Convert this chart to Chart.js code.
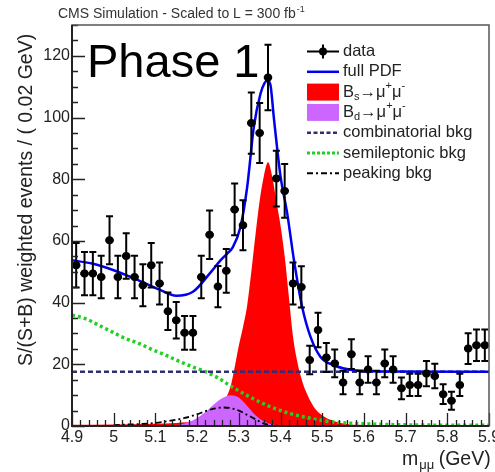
<!DOCTYPE html>
<html><head><meta charset="utf-8">
<script src="https://cdn.jsdelivr.net/npm/chart.js@4.4.1/dist/chart.umd.min.js"></script>
<style>html,body{margin:0;padding:0;background:#fff;overflow:hidden}canvas{display:block}</style>
</head><body>
<canvas id="c" width="495" height="472"></canvas>
<script>
// ---- data ----
const binCenters = [4.91,4.93,4.95,4.97,4.99,5.01,5.03,5.05,5.07,5.09,5.11,5.13,5.15,5.17,5.19,5.21,5.23,5.25,5.27,5.29,
  5.31,5.33,5.35,5.37,5.39,5.41,5.43,5.45,5.47,5.49,5.51,5.53,5.55,5.57,5.59,5.61,5.63,5.65,5.67,5.69,
  5.71,5.73,5.75,5.77,5.79,5.81,5.83,5.85,5.87,5.89];
const binHalfWidth = 0.01;
const dataValues = [52.1,49.4,49.4,48.3,60.2,48.3,55.1,48.3,45.6,52.1,46.2,37.2,34.3,30.2,30.2,48.3,62.0,45.2,50.3,70.2,
  65.1,98.2,95.0,113.0,80.2,76.2,46.2,45.1,21.4,31.1,22.2,20.3,14.1,23.3,14.1,18.3,14.1,20.3,18.3,12.2,
  13.3,13.3,17.0,16.2,10.3,8.2,13.3,25.1,26.2,26.2];
const dataErrors = [7.2,7.0,7.0,6.9,7.8,6.9,7.4,6.9,6.8,7.2,6.8,6.1,5.9,5.5,5.5,6.9,7.9,6.7,7.1,8.4,
  8.1,9.9,9.7,10.6,9.0,8.7,6.8,6.7,4.6,5.6,4.7,4.5,3.8,4.8,3.8,4.3,3.8,4.5,4.3,3.5,
  3.6,3.6,4.1,4.0,3.2,2.9,3.6,5.0,5.1,5.1];

const pdfX = [4.90,4.95,5.00,5.03,5.08,5.11,5.15,5.19,5.23,5.256,5.272,5.285,5.304,5.32,5.336,5.352,5.362,5.369,5.376,5.384,5.40,5.416,5.432,5.452,5.472,5.496,5.528,5.576,5.65,5.90];
const pdfY = [53.7,52.6,50.5,48.9,46.0,44.2,42.2,43.5,49.4,53.7,55.9,57.8,64.5,77.4,96.9,107.7,111.2,112.0,110.5,100.0,81.0,69.0,54.0,38.6,28.9,22.4,19.7,18.1,17.7,17.6];

const bsX = [4.90,5.00,5.10,5.15,5.20,5.22,5.24,5.26,5.28,5.29,5.30,5.31,5.32,5.33,5.34,5.35,5.36,5.37,5.38,5.39,5.40,5.41,5.42,5.43,5.44,5.45,5.46,5.48,5.50,5.52,5.55,5.60,5.70,5.90];
const bsY = [0.4,0.5,0.7,1.0,1.7,2.5,4.0,7.0,12.7,19,26,32,39,50,62,73,81,85.5,81,73,65,55,42,29,21,15.5,11.5,6.2,3.5,2.0,0.8,0.3,0.1,0];

const bdX = [5.12,5.14,5.16,5.18,5.20,5.22,5.24,5.26,5.28,5.30,5.32,5.34,5.36,5.38,5.40,5.42];
const bdY = [0,0.1,0.5,1.3,2.6,4.5,7.0,9.0,10.0,9.2,6.5,3.5,1.5,0.5,0.1,0];

const combX = [4.90,5.90];
const combY = [17.6,17.6];

const semiX = [4.90,4.932,4.964,4.996,5.028,5.060,5.092,5.124,5.156,5.189,5.22,5.25,5.28,5.328,5.376,5.424,5.472,5.52,5.568,5.65,5.75,5.90];
const semiY = [35.9,34.8,32.7,30.5,28.4,26.8,24.8,23.0,21.0,19.2,17.6,15.6,13.0,9.3,6.2,4.0,2.5,1.4,0.9,0.5,0.3,0.2];

const peakX = [5.00,5.10,5.14,5.17,5.20,5.22,5.24,5.26,5.28,5.30,5.32,5.34,5.36,5.38,5.40];
const peakY = [0.3,1.0,1.8,2.6,3.8,4.8,5.6,6.0,5.8,5.0,3.6,2.2,0.8,0.2,0];

const xTickValues = [4.9,5.0,5.1,5.2,5.3,5.4,5.5,5.6,5.7,5.8,5.9];
const xTickLabels = ['4.9','5','5.1','5.2','5.3','5.4','5.5','5.6','5.7','5.8','5.9'];
const yTickValues = [0,20,40,60,80,100,120];
const yTickLabels = ['0','20','40','60','80','100','120'];

const legendLabels = ['data','full PDF','Bs','Bd','combinatorial bkg','semileptonic bkg','peaking bkg'];

// ---- helpers ----
const zip = (xs, ys) => xs.map((x, i) => ({x: x, y: ys[i]}));
const FONT = '"Liberation Sans", Arial, Helvetica, sans-serif';
const C_RED = '#ff0000', C_PURPLE = '#cc66ff', C_BLUE = '#0000f0', C_NAVY = '#2e2e72', C_GREEN = '#22d022';

const curve = (data, color, width, dash, order, fill) => ({
  type: 'line', data: data, borderColor: color, borderWidth: width, borderDash: dash || [],
  pointRadius: 0, fill: fill ? 'origin' : false, backgroundColor: fill || 'transparent',
  cubicInterpolationMode: 'monotone', order: order
});

const decor = {
  id: 'decor',
  afterDatasetsDraw(chart) {
    const {ctx, scales: {x, y}} = chart;
    const a = chart.chartArea;
    ctx.save();
    ctx.beginPath(); ctx.rect(a.left, a.top, a.right - a.left, a.bottom - a.top); ctx.clip();
    ctx.strokeStyle = '#000'; ctx.lineCap = 'butt';
    binCenters.forEach((c, i) => {
      const px = x.getPixelForValue(c);
      const py = y.getPixelForValue(dataValues[i]);
      const pyHi = y.getPixelForValue(dataValues[i] + dataErrors[i]);
      const pyLo = y.getPixelForValue(dataValues[i] - dataErrors[i]);
      ctx.lineWidth = 2;
      ctx.beginPath(); ctx.moveTo(px, pyHi); ctx.lineTo(px, pyLo); ctx.stroke();
      ctx.beginPath(); ctx.moveTo(px - 3.5, pyHi); ctx.lineTo(px + 3.5, pyHi);
      ctx.moveTo(px - 3.5, pyLo); ctx.lineTo(px + 3.5, pyLo); ctx.stroke();
      ctx.lineWidth = 3;
      ctx.beginPath();
      ctx.moveTo(x.getPixelForValue(c - binHalfWidth), py); ctx.lineTo(x.getPixelForValue(c + binHalfWidth), py);
      ctx.stroke();
    });
    ctx.restore();
  },
  afterDraw(chart) {
    const {ctx, scales: {x, y}} = chart;
    const a = chart.chartArea;
    ctx.save();
    // tick marks (inside)
    ctx.strokeStyle = '#222'; ctx.lineWidth = 1.3;
    ctx.beginPath();
    for (let k = 0; k <= 50; k++) {
      const v = 4.9 + k * 0.02;
      const px = Math.round(x.getPixelForValue(v)) + 0.5;
      const len = (k % 5 === 0) ? 13 : 6;
      ctx.moveTo(px, a.bottom); ctx.lineTo(px, a.bottom - len);
    }
    for (let k = 0; k <= 26; k++) {
      const v = k * 5;
      const py = Math.round(y.getPixelForValue(v)) + 0.5;
      const len = (k % 4 === 0) ? 13 : 6;
      ctx.moveTo(a.left, py); ctx.lineTo(a.left + len, py);
    }
    ctx.stroke();
    // frame
    ctx.strokeStyle = '#555'; ctx.lineWidth = 1.5;
    ctx.strokeRect(a.left, a.top, a.right - a.left, a.bottom - a.top);
    ctx.strokeStyle = '#222'; ctx.lineWidth = 2;
    ctx.beginPath(); ctx.moveTo(a.left, a.top); ctx.lineTo(a.left, a.bottom); ctx.lineTo(a.right, a.bottom); ctx.stroke();

    // top caption
    ctx.fillStyle = '#333'; ctx.textBaseline = 'alphabetic'; ctx.textAlign = 'left';
    ctx.font = '14px ' + FONT;
    const cap = 'CMS Simulation - Scaled to L = 300 fb';
    ctx.fillText(cap, 58, 18);
    const cw = ctx.measureText(cap).width;
    ctx.font = '9px ' + FONT;
    ctx.fillText('-1', 58 + cw + 1, 12);

    // Phase 1
    ctx.fillStyle = '#000';
    ctx.font = '47px ' + FONT;
    ctx.fillText('Phase 1', 87, 77);

    // y title
    ctx.save();
    ctx.translate(32, 366); ctx.rotate(-Math.PI / 2);
    ctx.fillStyle = '#222'; ctx.font = '19.5px ' + FONT;
    ctx.fillText('S/(S+B) weighted events / ( 0.02 GeV)', 0, 0);
    ctx.restore();

    // x title
    ctx.fillStyle = '#222';
    ctx.font = '19.5px ' + FONT;
    ctx.fillText('m', 402, 465);
    let xx = 402 + ctx.measureText('m').width + 1;
    ctx.font = '13px ' + FONT;
    ctx.fillText('\u03bc\u03bc', xx, 469);
    xx += ctx.measureText('\u03bc\u03bc').width + 2;
    ctx.font = '19.5px ' + FONT;
    ctx.fillText(' (GeV)', xx - 3, 465);

    // legend
    const lx0 = 307, lx1 = 339, tx = 343, y0 = 51.5, dy = 20.3;
    ctx.textBaseline = 'middle';
    const mainF = '16.5px ' + FONT, smallF = '11px ' + FONT;
    const rowY = i => y0 + i * dy;
    let cy = rowY(0);
    ctx.strokeStyle = '#000'; ctx.lineWidth = 2; ctx.setLineDash([]);
    ctx.beginPath(); ctx.moveTo(lx0, cy); ctx.lineTo(lx1, cy); ctx.moveTo(323, cy - 7); ctx.lineTo(323, cy + 7); ctx.stroke();
    ctx.fillStyle = '#000'; ctx.beginPath(); ctx.arc(323, cy, 4, 0, Math.PI * 2); ctx.fill();
    cy = rowY(1);
    ctx.strokeStyle = C_BLUE; ctx.lineWidth = 2.5;
    ctx.beginPath(); ctx.moveTo(lx0, cy); ctx.lineTo(lx1, cy); ctx.stroke();
    cy = rowY(2);
    ctx.fillStyle = C_RED; ctx.fillRect(lx0, cy - 8.5, lx1 - lx0, 17);
    cy = rowY(3);
    ctx.fillStyle = C_PURPLE; ctx.fillRect(lx0, cy - 8.5, lx1 - lx0, 17);
    cy = rowY(4);
    ctx.strokeStyle = C_NAVY; ctx.lineWidth = 2.5; ctx.setLineDash([4, 2.5]);
    ctx.beginPath(); ctx.moveTo(lx0, cy); ctx.lineTo(lx1, cy); ctx.stroke();
    cy = rowY(5);
    ctx.strokeStyle = C_GREEN; ctx.lineWidth = 3; ctx.setLineDash([3, 2]);
    ctx.beginPath(); ctx.moveTo(lx0, cy); ctx.lineTo(lx1, cy); ctx.stroke();
    cy = rowY(6);
    ctx.strokeStyle = '#000'; ctx.lineWidth = 2; ctx.setLineDash([6, 3, 2, 3]);
    ctx.beginPath(); ctx.moveTo(lx0, cy); ctx.lineTo(lx1, cy); ctx.stroke();
    ctx.setLineDash([]);

    ctx.fillStyle = '#222'; ctx.font = mainF;
    ctx.fillText(legendLabels[0], tx, rowY(0));
    ctx.fillText(legendLabels[1], tx, rowY(1));
    const decay = (row, sub) => {
      let px = tx; const cyy = rowY(row);
      const seg = (t, f, dyy) => { ctx.font = f; ctx.fillText(t, px, cyy + dyy); px += ctx.measureText(t).width; };
      seg('B', mainF, 0); seg(sub, smallF, 5); seg('\u2192\u03bc', mainF, 0); seg('+', smallF, -6); seg('\u03bc', mainF, 0); seg('-', smallF, -6);
    };
    decay(2, 's'); decay(3, 'd');
    ctx.font = mainF;
    ctx.fillText(legendLabels[4], tx, rowY(4));
    ctx.fillText(legendLabels[5], tx, rowY(5));
    ctx.fillText(legendLabels[6], tx, rowY(6));
    ctx.restore();
  }
};

new Chart(document.getElementById('c'), {
  type: 'scatter',
  data: {
    datasets: [
      {type: 'scatter', data: zip(binCenters, dataValues), pointRadius: 4, pointBackgroundColor: '#000', pointBorderWidth: 0, order: 0},
      curve(zip(pdfX, pdfY), C_BLUE, 2.5, null, 1),
      curve(zip(peakX, peakY), '#000', 1.8, [6, 3, 2, 3], 2),
      curve(zip(combX, combY), C_NAVY, 2.5, [5, 3], 3),
      curve(zip(semiX, semiY), C_GREEN, 3.5, [3, 3], 4),
      curve(zip(bdX, bdY), C_PURPLE, 0, null, 5, C_PURPLE),
      curve(zip(bsX, bsY), C_RED, 0, null, 6, C_RED)
    ]
  },
  options: {
    responsive: false, animation: false, devicePixelRatio: 1,
    layout: {autoPadding: false, padding: {left: 0, right: 6, top: 25, bottom: 0}},
    plugins: {legend: {display: false}, tooltip: {enabled: false}},
    scales: {
      x: {
        type: 'linear', min: 4.9, max: 5.9,
        afterFit(s) { s.height = 46; s.paddingLeft = 0; s.paddingRight = 0; },
        afterBuildTicks(s) { s.ticks = xTickValues.map(v => ({value: v})); },
        ticks: {callback: (v, i) => xTickLabels[i], font: {family: FONT, size: 16}, color: '#222', padding: 2, maxRotation: 0, autoSkip: false},
        grid: {display: false, drawTicks: false}, border: {display: false}
      },
      y: {
        type: 'linear', min: 0, max: 130,
        afterFit(s) { s.width = 72; s.paddingTop = 0; s.paddingBottom = 0; },
        afterBuildTicks(s) { s.ticks = yTickValues.map(v => ({value: v})); },
        ticks: {callback: (v, i) => yTickLabels[i], font: {family: FONT, size: 16}, color: '#222', padding: 2, autoSkip: false},
        grid: {display: false, drawTicks: false}, border: {display: false}
      }
    }
  },
  plugins: [decor]
});
</script>
</body></html>
